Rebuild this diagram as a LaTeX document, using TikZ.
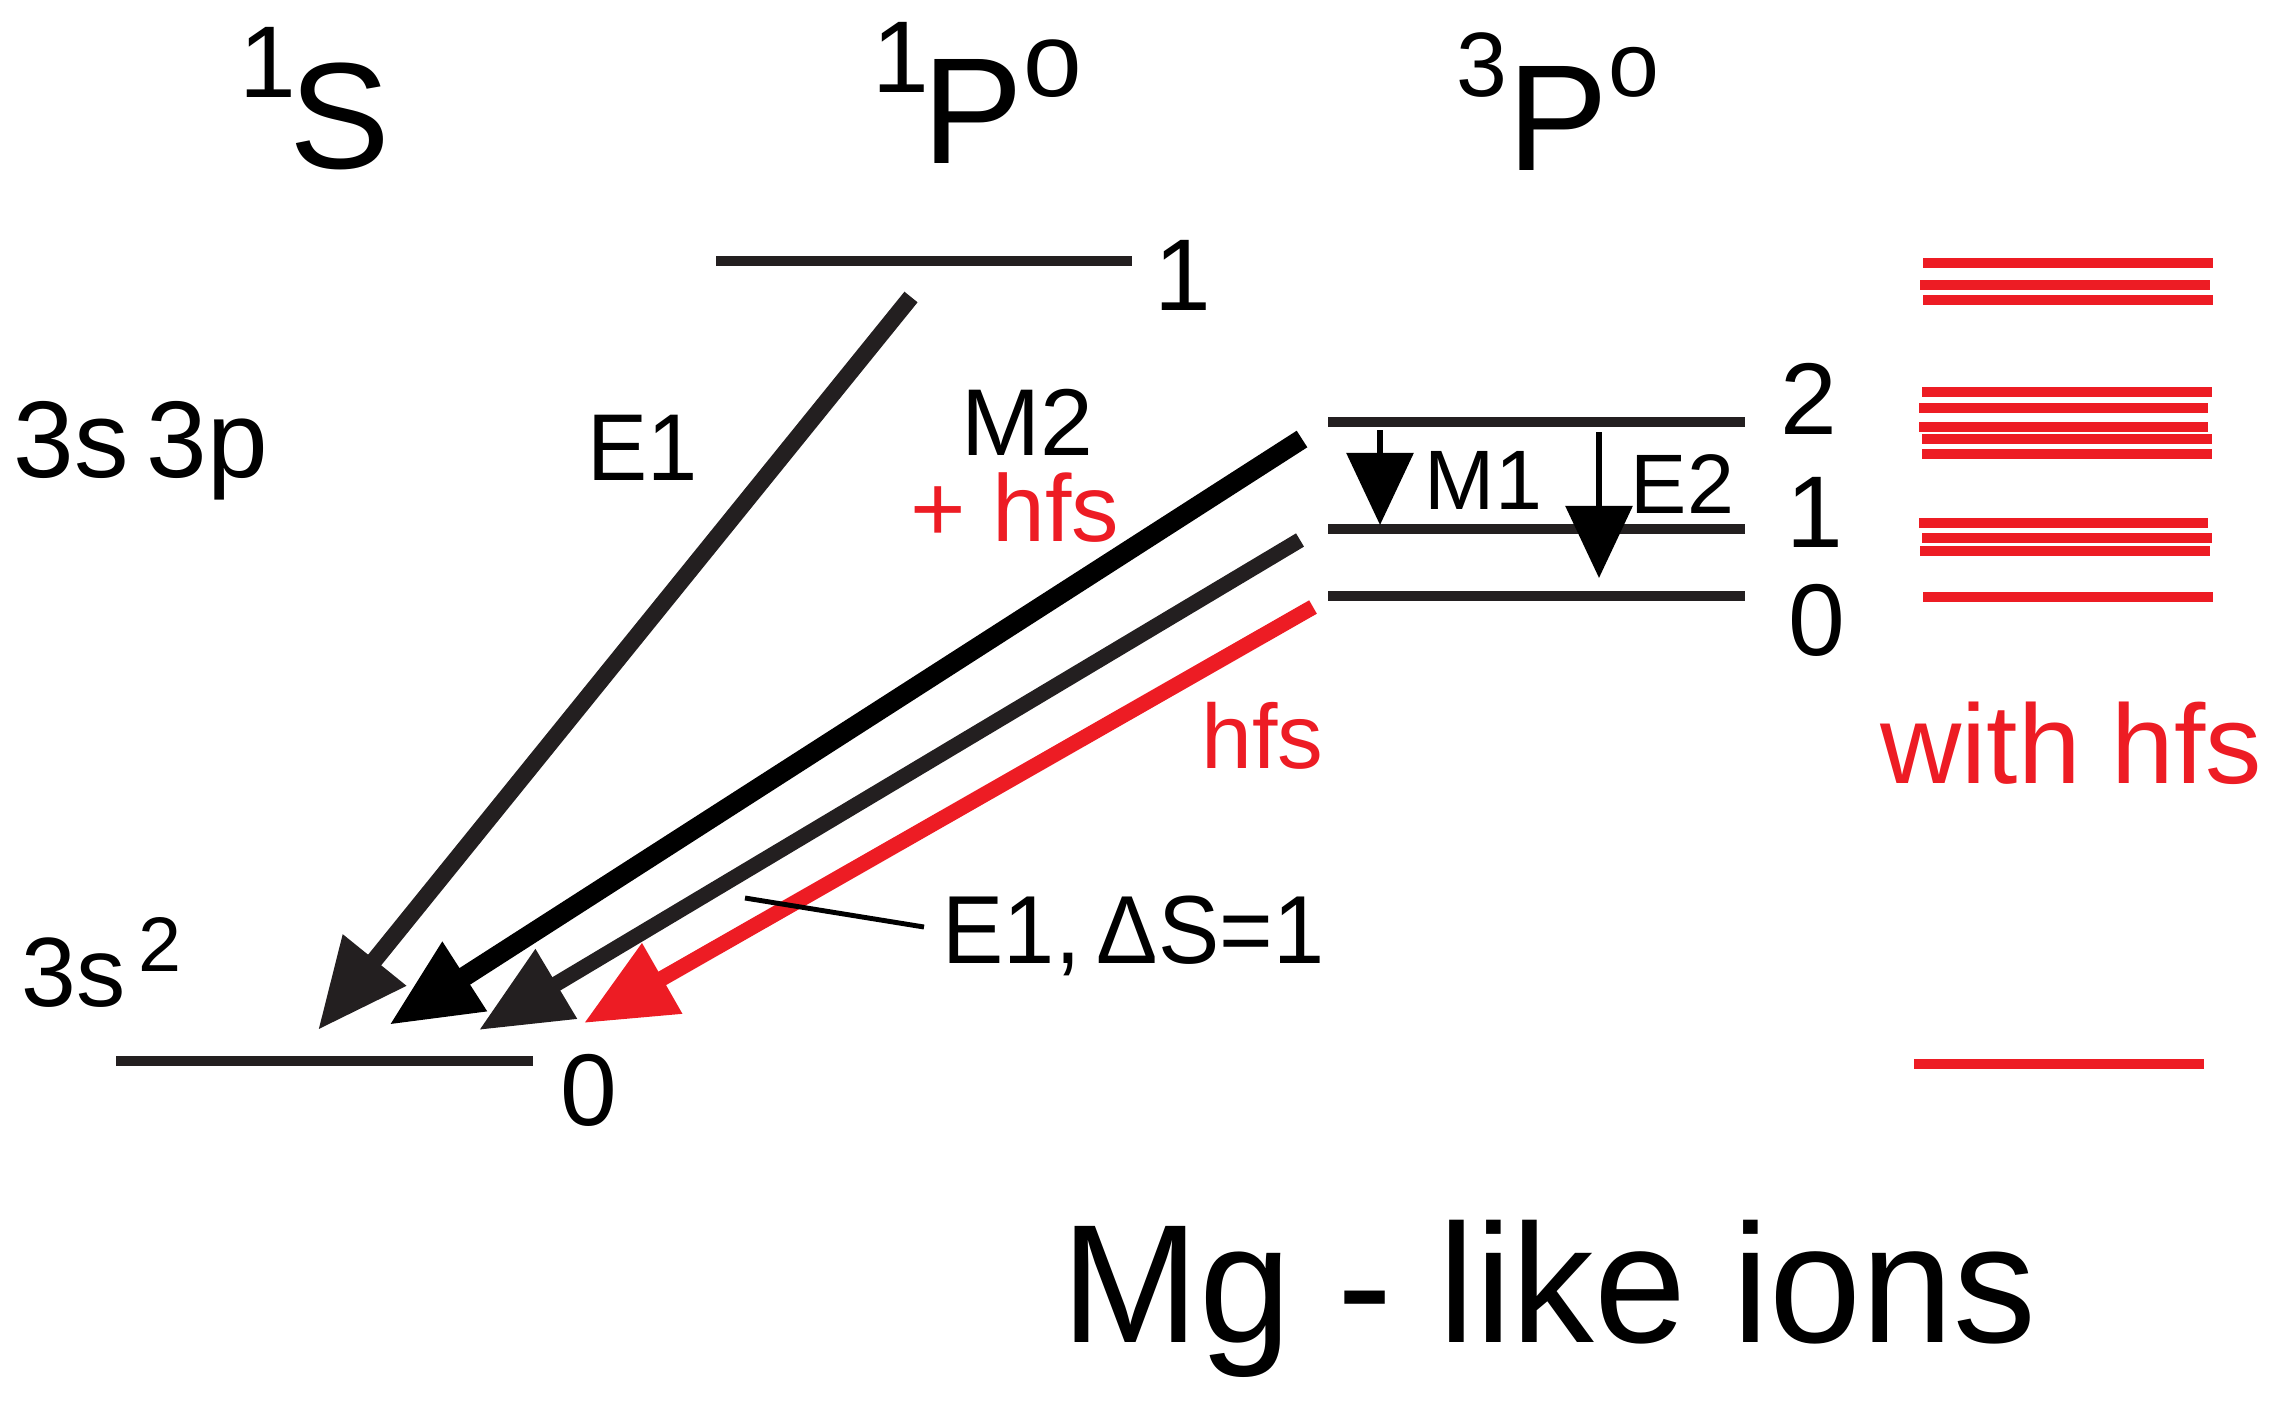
\documentclass[tikz,border=0pt]{standalone}
\usepackage{fontspec}
\setmainfont{Liberation Sans}
\newfontfamily\narrowsans[FakeStretch=0.95]{Liberation Sans}
\newfontfamily\titlesans[FakeStretch=0.98]{Liberation Sans}
\usetikzlibrary{arrows.meta}
\definecolor{lvlblack}{RGB}{35,31,32}
\definecolor{hfsred}{RGB}{237,28,36}
\newcommand{\fsz}[1]{\fontsize{#1}{#1}\selectfont}

\begin{document}
\begin{tikzpicture}[x=0.01cm,y=-0.01cm,
  level/.style={draw=lvlblack,line width=2.8pt},
  hfs level/.style={draw=hfsred,line width=2.8pt},
  big arrow/.style={-{Triangle[length=0.9cm,width=0.77cm]}},
  small arrow/.style={-{Triangle[length=0.72cm,width=0.66cm]},line width=1.7pt},
  lbl/.style={inner sep=0pt,anchor=base west},
  digit/.style={inner sep=0pt,anchor=base,font=\fsz{29}}]
  \useasboundingbox (0,0) rectangle (2270,1409);

  % term symbols
  \node[lbl] (termS) at (239,168) {{\fsz{29}\raisebox{20pt}{1}}\kern-2pt{\fsz{43}S}};
  \node[lbl] (termP) at (872,163) {{\fsz{29}\raisebox{20pt}{1}}\kern-2pt{\fsz{43}P}{\fsz{30}\raisebox{19pt}{o}}};
  \node[lbl] (termT) at (1456,170) {{\fsz{26}\raisebox{21pt}{3}}{\fsz{43}P}{\fsz{26}\raisebox{21pt}{o}}};

  % levels
  \draw[level] (116,1061) -- (533,1061);
  \draw[level] (716,261) -- (1132,261);
  \draw[level] (1328,422) -- (1745,422);
  \draw[level] (1328,529) -- (1745,529);
  \draw[level] (1328,596) -- (1745,596);

  \node[digit] (j0g) at (589,1125) {0};
  \node[digit] (j1p) at (1183,310) {1};
  \node[digit] (j2) at (1809,434) {2};
  \node[digit] (j1) at (1815,547) {1};
  \node[digit] (j0) at (1817,655) {0};

  % hyperfine components
  \foreach \xa/\xb/\yy in {1923/2213/263, 1920/2210/285, 1923/2213/300,
      1922/2212/392, 1919/2208/408, 1919/2208/427, 1922/2212/439, 1922/2212/454,
      1919/2208/523, 1922/2212/538, 1920/2210/551, 1923/2213/597, 1914/2204/1064}
    \draw[hfs level] (\xa,\yy) -- (\xb,\yy);

  % transitions
  \coordinate (sP1) at (911,297);
  \coordinate (sT2) at (1302,439);
  \coordinate (sT1) at (1300,540);
  \coordinate (sT0) at (1313,607);
  \coordinate (tipA) at (318,1030);
  \coordinate (tipB) at (389,1025);
  \coordinate (tipC) at (479,1030);
  \coordinate (tipD) at (584,1023);

  \draw[big arrow,lvlblack,line width=4.8pt] (sP1) -- (tipA);
  \draw[big arrow,black,line width=5.6pt] (sT2) -- (tipB);
  \draw[big arrow,lvlblack,line width=4.4pt] (sT1) -- (tipC);
  \draw[big arrow,hfsred,line width=4.4pt] (sT0) -- (tipD);

  \coordinate (m1a) at (1380,430);
  \coordinate (m1b) at (1380,525);
  \coordinate (e2a) at (1599,432);
  \coordinate (e2b) at (1599,578);
  \draw[small arrow] (m1a) -- (m1b);
  \draw[small arrow] (e2a) -- (e2b);

  % labels
  \node[lbl,font=\fsz{31}] (conf) at (13,477) {3s\,3p};
  \node[lbl,font=\fsz{28}] (gconf) at (21,1006) {3s\kern3.5pt{\fsz{22}\raisebox{9.7pt}{2}}};
  \node[lbl,font=\narrowsans\fsz{27}] (e1) at (587,480) {E1};
  \node[lbl,font=\fsz{27}] (m2) at (961,455) {M2};
  \node[lbl,font=\fsz{27},text=hfsred] (m2hfs) at (910,541) {+ hfs};
  \node[lbl,font=\fsz{26},text=hfsred] (hfs) at (1201,768) {hfs};
  \node[lbl,font=\fsz{32},text=hfsred] (withhfs) at (1880,783) {with hfs};
  \node[lbl,font=\fsz{24}] (m1) at (1424,509) {M1};
  \node[lbl,font=\fsz{24}] (e2) at (1630,513) {E2};
  \node[lbl,font=\narrowsans\fsz{27.5}] (spin) at (942,963) {E1,\,ΔS=1};
  \node[lbl,font=\titlesans\fsz{48}] (ions) at (1061,1342) {Mg - like ions};

  \coordinate (lead) at (745,898);
  \draw[line width=1.4pt] (lead) -- ([shift={(-18,-36)}]spin.base west);
\end{tikzpicture}
\end{document}
